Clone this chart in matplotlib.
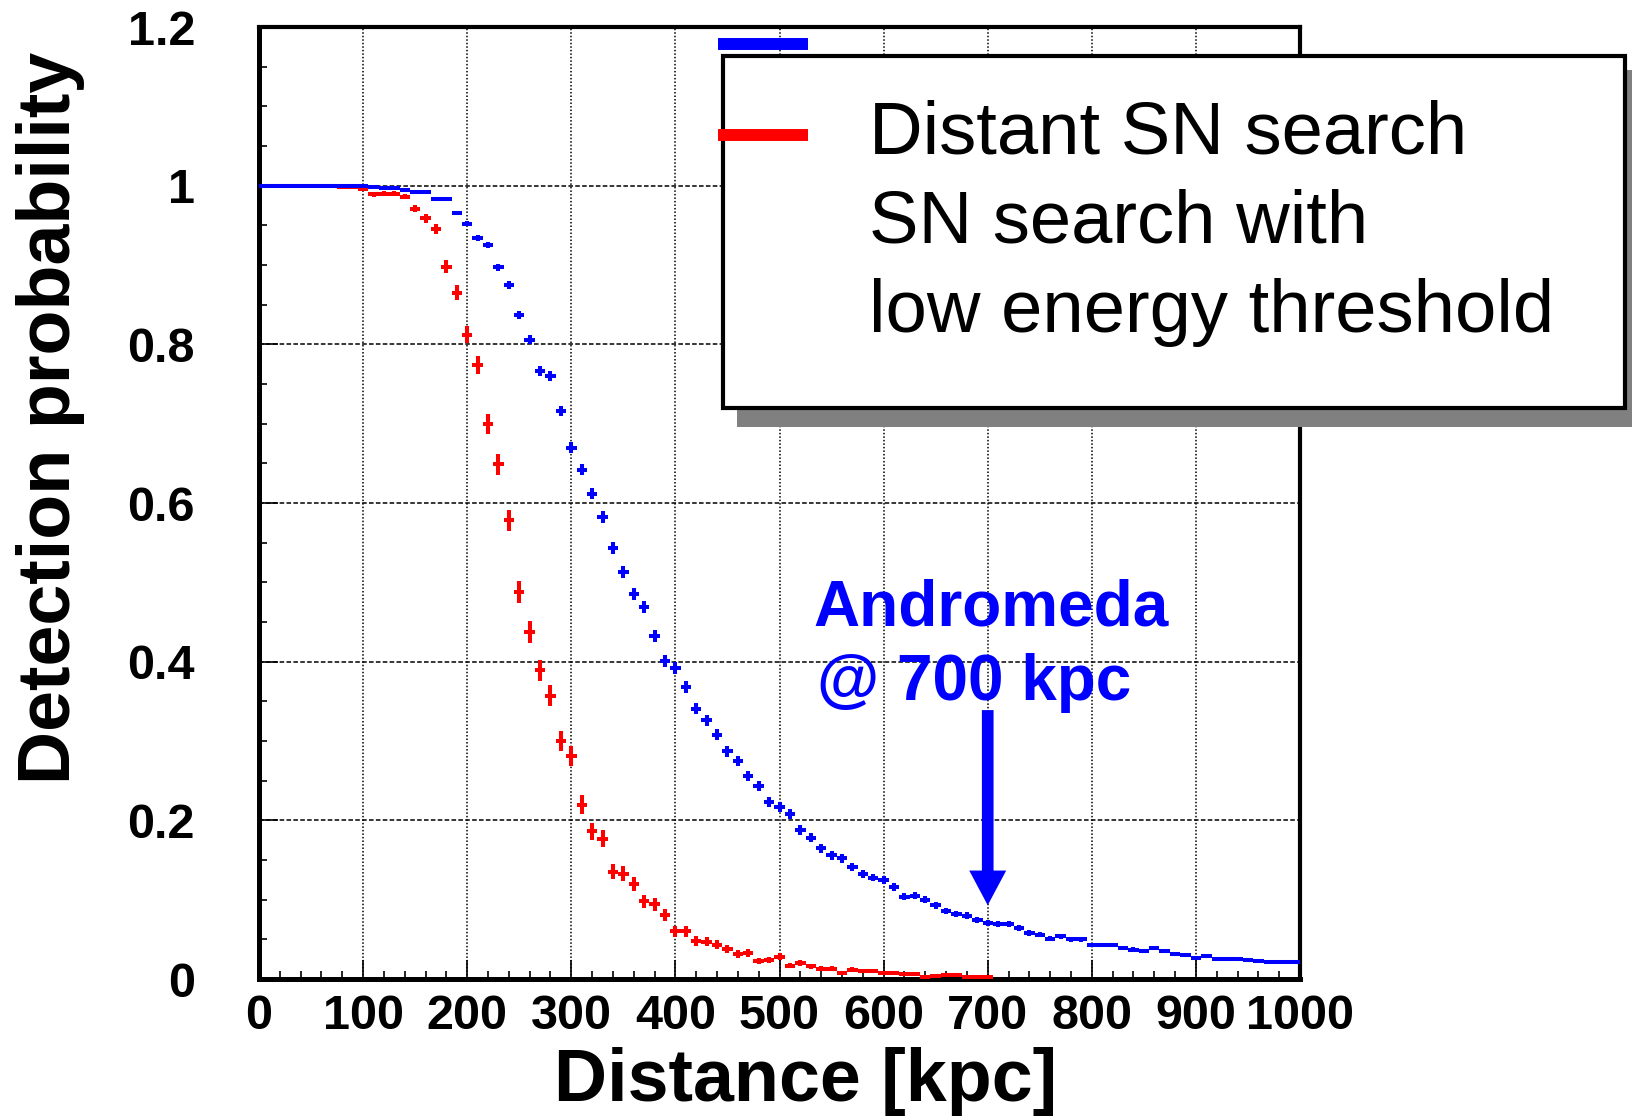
import numpy as np
import matplotlib
matplotlib.use('Agg')
from matplotlib import pyplot as plt
from matplotlib.patches import Rectangle
from matplotlib.ticker import MultipleLocator, FixedLocator

plt.rcParams['font.family'] = ['Liberation Sans', 'DejaVu Sans']

# bin centres [kpc], 10 kpc bins
dist_blue = np.arange(0, 1001, 10)
dist_red = np.arange(0, 701, 10)

# SN search with low energy threshold (blue)
prob_blue = [1.0, 1.0, 1.0, 1.0, 1.0, 1.0, 1.0, 1.0, 1.0, 1.0, 1.0,
             0.998, 0.997, 0.997, 0.995, 0.992, 0.992, 0.983, 0.983, 0.966, 0.952,
             0.934, 0.925, 0.897, 0.875, 0.837, 0.806, 0.766, 0.760, 0.716, 0.670,
             0.642, 0.612, 0.582, 0.543, 0.513, 0.485, 0.469, 0.432, 0.401, 0.392,
             0.368, 0.341, 0.326, 0.308, 0.287, 0.275, 0.256, 0.243, 0.223, 0.217,
             0.208, 0.188, 0.178, 0.165, 0.156, 0.152, 0.141, 0.133, 0.128, 0.125,
             0.116, 0.104, 0.105, 0.100, 0.093, 0.086, 0.082, 0.080, 0.074, 0.071,
             0.069, 0.069, 0.064, 0.058, 0.056, 0.051, 0.054, 0.050, 0.050, 0.043,
             0.043, 0.043, 0.039, 0.037, 0.035, 0.039, 0.035, 0.032, 0.030, 0.027,
             0.029, 0.025, 0.025, 0.025, 0.024, 0.023, 0.021, 0.021, 0.021, 0.021]

# Distant SN search (red)
prob_red = [1.0, 1.0, 1.0, 1.0, 1.0, 1.0, 1.0, 0.999, 0.998, 0.998, 0.996,
            0.989, 0.990, 0.990, 0.986, 0.971, 0.959, 0.945, 0.898, 0.865, 0.812,
            0.774, 0.700, 0.649, 0.578, 0.488, 0.437, 0.389, 0.357, 0.300, 0.281,
            0.220, 0.186, 0.177, 0.135, 0.133, 0.120, 0.098, 0.094, 0.081, 0.060,
            0.060, 0.048, 0.047, 0.043, 0.038, 0.032, 0.033, 0.023, 0.024, 0.028,
            0.017, 0.020, 0.016, 0.013, 0.013, 0.008, 0.012, 0.010, 0.010, 0.008,
            0.007, 0.006, 0.006, 0.002, 0.004, 0.005, 0.005, 0.003, 0.002, 0.003]

# simulated SNe per bin (sets the binomial error bars)
n_blue = 4500
n_red = 1300

x_ticks = [0, 100, 200, 300, 400, 500, 600, 700, 800, 900, 1000]
y_ticks = [0, 0.2, 0.4, 0.6, 0.8, 1.0, 1.2]
y_ticklabels = ['0', '0.2', '0.4', '0.6', '0.8', '1', '1.2']

legend_lines = ['Distant SN search', 'SN search with', 'low energy threshold']
andromeda_kpc = 700
andromeda_prob = 0.093

pb = np.array(prob_blue)
pr = np.array(prob_red)
err_blue = np.sqrt(pb * (1 - pb) / n_blue)
err_red = np.sqrt(pr * (1 - pr) / n_red)

fig = plt.figure(figsize=(16.33, 11.17), dpi=100)
ax = fig.add_axes([0.1586, 0.1235, 0.6375, 0.8523])

ax.errorbar(dist_red, pr, xerr=5, yerr=err_red, fmt='none', ecolor='#ff0000',
            elinewidth=2.9, capsize=0, zorder=3)
ax.errorbar(dist_blue, pb, xerr=5, yerr=err_blue, fmt='none', ecolor='#0000ff',
            elinewidth=2.9, capsize=0, zorder=4)

ax.set_xlim(0, 1000)
ax.set_ylim(0, 1.2)
ax.xaxis.set_major_locator(FixedLocator(x_ticks))
ax.xaxis.set_minor_locator(MultipleLocator(20))
ax.yaxis.set_major_locator(FixedLocator(y_ticks))
ax.yaxis.set_minor_locator(MultipleLocator(0.05))
ax.set_yticklabels(y_ticklabels)
ax.set_xticklabels([str(v) for v in x_ticks])

ax.tick_params(which='both', direction='in', top=False, right=False, width=1.2,
               labelsize=35)
ax.tick_params(which='major', length=14)
ax.tick_params(which='minor', length=6)
ax.tick_params(axis='x', pad=11)
ax.tick_params(axis='y', pad=46)
for lab in ax.get_xticklabels() + ax.get_yticklabels():
    lab.set_fontweight('bold')

for s in ['left', 'bottom']:
    ax.spines[s].set_linewidth(3.6)
for s in ['top', 'right']:
    ax.spines[s].set_linewidth(3.0)

ax.set_axisbelow(True)
ax.xaxis.grid(True, color='black', linewidth=1.1, linestyle=(0, (1, 1.3)))
ax.yaxis.grid(True, color='black', linewidth=1.1, linestyle=(0, (3, 1.5)))

# Andromeda annotation
ax.text(533, 0.446, 'Andromeda', color='#0000ff', fontsize=46, fontweight='bold',
        ha='left', va='baseline', zorder=6)
ax.text(536, 0.352, '@ 700 kpc', color='#0000ff', fontsize=46, fontweight='bold',
        ha='left', va='baseline', zorder=6)
ax.annotate('', xy=(andromeda_kpc, andromeda_prob), xytext=(andromeda_kpc, 0.339),
            arrowprops=dict(facecolor='#0000ff', edgecolor='none', width=8.4,
                            headwidth=26.6, headlength=25, shrink=0), zorder=6)

# axis titles
fig.text(51 / 1633, 1 - 418 / 1117, 'Detection probability', rotation=90,
         fontsize=53, fontweight='bold', ha='center', va='center')
fig.text(806 / 1633, 1 - 1101 / 1117, 'Distance [kpc]', fontsize=53,
         fontweight='bold', ha='center', va='baseline')

# ROOT-style legend box with shadow, drawn in pixel coordinates
lax = fig.add_axes([0, 0, 1, 1], zorder=10)
lax.set_xlim(0, 1633)
lax.set_ylim(1117, 0)
lax.axis('off')
lax.patch.set_alpha(0)
lax.add_patch(Rectangle((737, 70), 910, 357, facecolor='#808080', edgecolor='none'))
lax.add_patch(Rectangle((723, 56), 902, 352, facecolor='white', edgecolor='black',
                        linewidth=3.0))
lax.plot([718, 808], [44, 44], color='#0000ff', linewidth=8.6, solid_capstyle='butt')
lax.plot([718, 808], [135, 135], color='#ff0000', linewidth=8.6, solid_capstyle='butt')
for i, line in enumerate(legend_lines):
    lax.text(869, 153 + 89.5 * i, line, fontsize=53.5, ha='left', va='baseline')

plt.savefig('out.png', dpi=100)
